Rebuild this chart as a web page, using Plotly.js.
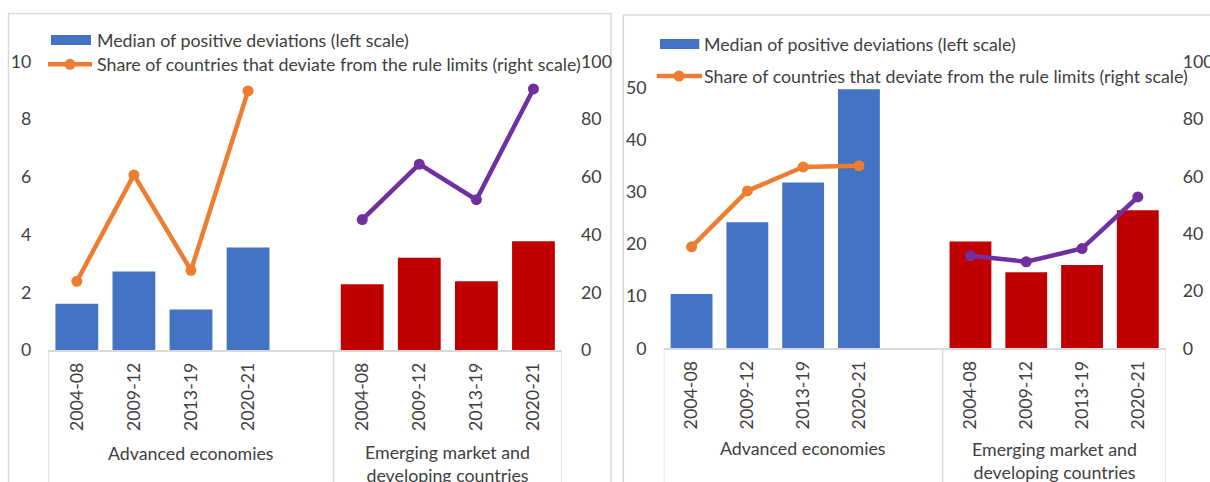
<!DOCTYPE html>
<html>
<head>
<meta charset="utf-8">
<script src="https://cdn.plot.ly/plotly-3.0.1.min.js"></script>
<style>
  html, body { margin: 0; padding: 0; background: #ffffff; }
  #chart { width: 1210px; height: 482px; }
</style>
</head>
<body>
<div id="chart"></div>
<script>
// ---------------- data ----------------
const categories = ['2004-08', '2009-12', '2013-19', '2020-21'];
const groupAE = 'Advanced economies';
const groupEM = 'Emerging market and<br>developing countries';
const legendBar = 'Median of positive deviations (left scale)';
const legendLine = 'Share of countries that deviate from the rule limits (right scale)';

// Left panel
const aeMedianA = [1.6, 2.72, 1.4, 3.55];
const emMedianA = [2.28, 3.2, 2.38, 3.77];
const aeShareA = [23.8, 60.7, 27.6, 89.8];
const emShareA = [45.2, 64.4, 52.1, 90.5];

// Right panel
const aeMedianB = [10.4, 24.2, 31.8, 49.7];
const emMedianB = [20.5, 14.6, 16.0, 26.5];
const aeShareB = [35.4, 54.9, 63.3, 63.7];
const emShareB = [32.3, 30.2, 34.8, 52.8];

// ---------------- styling ----------------
const W = 1210, H = 482;
const FONT = 'Lato, "Open Sans", sans-serif';
const TXT = '#404040';
const FS = 17.8;
const GRID = '#d9d9d9';
const BLUE = '#4472C4', RED = '#C00000', ORANGE = '#ED7D31', PURPLE = '#7030A0';

const px = x => x / W;
const py = y => 1 - y / H;

// slot positions: AE group has 4 categories + one empty slot, EM group 4 categories
const xAE = categories.map((c, i) => i);
const xEM = categories.map((c, i) => i + categories.length + 1);
const tickvals = xAE.concat(xEM);
const ticktext = categories.concat(categories);
const nSlots = categories.length * 2 + 1;

function panelTraces(xa, yl, yr, aeM, emM, aeS, emS) {
  return [
    { type: 'bar', x: xAE, y: aeM, xaxis: xa, yaxis: yl, width: 0.75,
      marker: { color: BLUE, line: { width: 0 } }, showlegend: false, hoverinfo: 'skip' },
    { type: 'bar', x: xEM, y: emM, xaxis: xa, yaxis: yl, width: 0.75,
      marker: { color: RED, line: { width: 0 } }, showlegend: false, hoverinfo: 'skip' },
    { type: 'scatter', mode: 'lines+markers', x: xAE, y: aeS, xaxis: xa, yaxis: yr,
      line: { color: ORANGE, width: 4.5 }, marker: { color: ORANGE, size: 11 },
      showlegend: false, hoverinfo: 'skip' },
    { type: 'scatter', mode: 'lines+markers', x: xEM, y: emS, xaxis: xa, yaxis: yr,
      line: { color: PURPLE, width: 4.5 }, marker: { color: PURPLE, size: 11 },
      showlegend: false, hoverinfo: 'skip' }
  ];
}

const data = [].concat(
  panelTraces('x', 'y', 'y2', aeMedianA, emMedianA, aeShareA, emShareA),
  panelTraces('x2', 'y3', 'y4', aeMedianB, emMedianB, aeShareB, emShareB)
);

const tickFont = { family: FONT, size: FS, color: TXT };

function xAxis(domain, anchor) {
  return {
    domain: domain, anchor: anchor, range: [-0.5, nSlots - 0.5],
    tickvals: tickvals, ticktext: ticktext, tickangle: -90,
    showgrid: false, zeroline: false, ticks: '',
    showline: true, linecolor: GRID, linewidth: 1.5,
    tickfont: tickFont, ticklabelstandoff: 4, fixedrange: true
  };
}
function yAxis(domain, anchor, range, dtick, side, overlaying, standoff) {
  const a = {
    domain: domain, anchor: anchor, range: range, dtick: dtick, tick0: 0,
    showgrid: false, zeroline: false, ticks: '', showline: false,
    tickfont: tickFont, side: side, ticklabelstandoff: standoff, fixedrange: true
  };
  if (overlaying) a.overlaying = overlaying;
  return a;
}

const domXA = [px(48.3), px(562)];
const domYA = [py(350), py(61.5)];
const domXB = [px(663.7), px(1165.7)];
const domYB = [py(348.3), py(61.7)];

const shapes = [];
const annotations = [];

// panel frames
shapes.push({ type: 'rect', xref: 'paper', yref: 'paper', x0: px(8.5), x1: px(611), y0: -0.2, y1: py(13.5),
  line: { color: GRID, width: 1.5 }, fillcolor: 'rgba(0,0,0,0)', layer: 'below' });
shapes.push({ type: 'rect', xref: 'paper', yref: 'paper', x0: px(623.3), x1: 1.2, y0: -0.2, y1: py(15),
  line: { color: GRID, width: 1.5 }, fillcolor: 'rgba(0,0,0,0)', layer: 'below' });

// category group boxes (vertical dividers)
function dividers(xref, yBottom) {
  [-0.5, categories.length + 0.5, nSlots - 0.5].forEach(v => {
    shapes.push({ type: 'line', xref: xref, yref: 'paper', x0: v, x1: v, y0: yBottom, y1: -0.2,
      line: { color: GRID, width: 1.5 } });
  });
}
dividers('x', domYA[0]);
dividers('x2', domYB[0]);

// group labels
function groupLabels(xref, yAE, yEM) {
  annotations.push({ xref: xref, yref: 'paper', x: (categories.length) / 2, y: py(yAE),
    text: groupAE, showarrow: false, xanchor: 'center', yanchor: 'middle',
    font: { family: FONT, size: FS, color: TXT } });
  annotations.push({ xref: xref, yref: 'paper', x: categories.length + 1 + (categories.length - 1) / 2, y: py(yEM),
    text: groupEM, showarrow: false, xanchor: 'center', yanchor: 'middle',
    font: { family: FONT, size: FS, color: TXT } });
}
groupLabels('x', 452.7, 463.3);
groupLabels('x2', 448.3, 460);

// manual legends
function legend(rx0, rx1, ry0, ry1, lx0, lx1, ly, mx, tx, ty1, ty2) {
  shapes.push({ type: 'rect', xref: 'paper', yref: 'paper', x0: px(rx0), x1: px(rx1), y0: py(ry1), y1: py(ry0),
    fillcolor: BLUE, line: { width: 0 } });
  shapes.push({ type: 'line', xref: 'paper', yref: 'paper', x0: px(lx0), x1: px(lx1), y0: py(ly), y1: py(ly),
    line: { color: ORANGE, width: 4.5 } });
  shapes.push({ type: 'circle', xref: 'paper', yref: 'paper', x0: px(mx - 5.5), x1: px(mx + 5.5), y0: py(ly + 5.5), y1: py(ly - 5.5),
    fillcolor: ORANGE, line: { width: 0 } });
  annotations.push({ xref: 'paper', yref: 'paper', x: px(tx), y: py(ty1), text: legendBar, showarrow: false,
    xanchor: 'left', yanchor: 'middle', font: { family: FONT, size: FS, color: TXT } });
  annotations.push({ xref: 'paper', yref: 'paper', x: px(tx), y: py(ty2), text: legendLine, showarrow: false,
    xanchor: 'left', yanchor: 'middle', font: { family: FONT, size: FS, color: TXT } });
}
legend(51, 91, 35, 45, 48, 92, 64.3, 70, 95, 39.5, 64);
legend(660, 699.3, 39, 49, 656.7, 702, 76, 679, 702, 43.5, 76);

const layout = {
  width: W, height: H,
  margin: { l: 0, r: 0, t: 0, b: 0 },
  paper_bgcolor: '#ffffff', plot_bgcolor: 'rgba(0,0,0,0)',
  barmode: 'overlay', showlegend: false, hovermode: false,
  font: { family: FONT, size: FS, color: TXT },
  xaxis: xAxis(domXA, 'y'),
  yaxis: yAxis(domYA, 'x', [0, 10], 2, 'left', null, 16),
  yaxis2: yAxis(domYA, 'x', [0, 100], 20, 'right', 'y', 18),
  xaxis2: xAxis(domXB, 'y3'),
  yaxis3: yAxis(domYB, 'x2', [0, 55], 10, 'left', null, 16),
  yaxis4: yAxis(domYB, 'x2', [0, 100], 20, 'right', 'y3', 16),
  shapes: shapes,
  annotations: annotations
};

Plotly.newPlot('chart', data, layout, { staticPlot: true, displayModeBar: false });
</script>
</body>
</html>
